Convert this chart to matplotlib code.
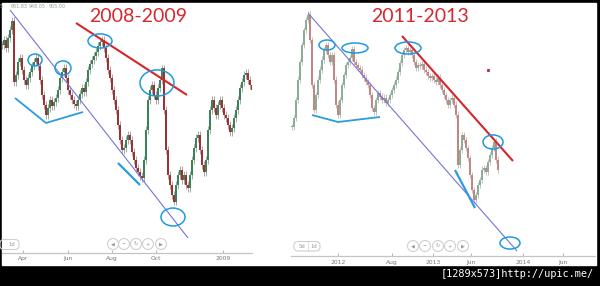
import numpy as np
import matplotlib
matplotlib.use("Agg")
import matplotlib.pyplot as plt
from matplotlib.patches import Rectangle, Ellipse, Circle, FancyBboxPatch

# ---------------- data ----------------
# Gold, Mar 2008 - Feb 2009 (closes, ~every 2.7 days)
left_close = [978, 987, 973, 991, 1006, 1022, 910, 923, 947, 954, 932, 914, 905, 917, 929,
              940, 947, 954, 940, 914, 886, 868, 849, 862, 877, 866, 873, 881, 895, 917,
              929, 936, 917, 895, 886, 877, 870, 866, 877, 888, 899, 892, 910, 932, 943,
              951, 958, 965, 976, 984, 987, 973, 954, 932, 917, 895, 877, 859, 831, 803,
              785, 789, 803, 813, 803, 781, 767, 752, 745, 737, 733, 767, 822, 877, 895,
              905, 886, 877, 899, 914, 935, 859, 785, 739, 721, 702, 690, 721, 739, 748,
              730, 739, 721, 715, 739, 767, 789, 807, 813, 785, 757, 745, 767, 822, 859,
              877, 862, 849, 868, 877, 862, 849, 844, 831, 818, 825, 844, 859, 877, 899,
              910, 923, 927, 914, 905, 895]
left_ticks = [10.5, 33, 55, 77, 110.5]
left_labels = ["Apr", "Jun", "Aug", "Oct", "2009"]

# Gold, Jul 2011 - Sep 2013 (closes, ~weekly)
right_close = [1477, 1512, 1582, 1660, 1730, 1796, 1854, 1893, 1913, 1815, 1640, 1543, 1601,
               1660, 1699, 1738, 1776, 1796, 1757, 1730, 1757, 1660, 1563, 1524, 1582, 1640,
               1679, 1718, 1730, 1745, 1780, 1730, 1718, 1706, 1699, 1679, 1668, 1652, 1640,
               1601, 1551, 1535, 1582, 1609, 1594, 1582, 1590, 1570, 1582, 1601, 1621, 1640,
               1660, 1691, 1726, 1757, 1776, 1784, 1769, 1776, 1757, 1730, 1706, 1718, 1714,
               1722, 1699, 1691, 1675, 1668, 1675, 1660, 1652, 1668, 1640, 1621, 1601, 1582,
               1563, 1582, 1590, 1563, 1524, 1329, 1387, 1446, 1426, 1395, 1356, 1290, 1232,
               1193, 1212, 1251, 1271, 1310, 1317, 1302, 1341, 1368, 1395, 1419, 1349, 1310]
right_ticks = [23, 50, 70.5, 89.5, 115.5, 135.5]
right_labels = ["2012", "Aug", "2013", "Jun", "2014", "Jun"]

left_title = "2008-2009"
right_title = "2011-2013"
ticker_values = ["961.83", "948.05", "955.00"]

# annotations (index, price)
left_lines = [([(4, 1042.6), (93, 623.1)], "#7474da", 0.8),
              ([(37, 1018.7), (92.5, 886.2)], "#d8242b", 1.5),
              ([(6.5, 880.7), (22, 834.7), (40.5, 854.9)], "#2a9ddc", 1.3),
              ([(58, 761.1), (69, 720.6)], "#2a9ddc", 1.6)]
left_ellipses = [(16.5, 950.6, 7, 22), (30.5, 935.9, 8, 26), (49, 985.6, 12, 26),
                 (77.5, 908.3, 17, 48), (85.5, 661.7, 12, 33)]
right_lines = [([(8, 1920), (112.5, 994.2)], "#7474da", 0.8),
               ([(55, 1830.6), (110.5, 1344.3)], "#d8242b", 1.5),
               ([(10, 1523.2), (23, 1496.0), (44, 1515.5)], "#2a9ddc", 1.3),
               ([(81.5, 1309.3), (91.5, 1161.5)], "#2a9ddc", 1.6)]
right_ellipses = [(17.5, 1795.5, 8, 39), (31.5, 1783.9, 13, 39), (58, 1783.9, 13, 47),
                  (100.5, 1418.2, 10, 55), (109, 1025.3, 10, 47)]

W, H = 600, 286
fig = plt.figure(figsize=(W / 100, H / 100), dpi=100, facecolor="black")
bg = fig.add_axes([0, 0, 1, 1])
bg.set_xlim(0, W)
bg.set_ylim(H, 0)
bg.axis("off")
bg.add_patch(Rectangle((2, 3), 594, 262, color="white", zorder=0))


def px_axes(x0, x1, y0, y1):
    ax = fig.add_axes([x0 / W, 1 - y1 / H, (x1 - x0) / W, (y1 - y0) / H])
    ax.set_facecolor("none")
    return ax


def candles(ax, closes, pad, up, down, wick, width):
    c = np.asarray(closes, float)
    o = np.r_[c[0], c[:-1]]
    x = np.arange(len(c))
    hi = np.maximum(o, c) + pad
    lo = np.minimum(o, c) - pad
    ax.vlines(x, lo, hi, color=wick, lw=0.5, zorder=2)
    body = np.maximum(np.abs(c - o), pad * 0.4)
    colors = np.where(c >= o, up, down)
    ax.bar(x, body, bottom=np.minimum(o, c), width=width, color=colors,
           linewidth=0, zorder=3)


def style_axis(ax, ticks, labels, pad):
    for s in ("top", "left", "right"):
        ax.spines[s].set_visible(False)
    ax.spines["bottom"].set_color("#c4c4c4")
    ax.spines["bottom"].set_linewidth(0.9)
    ax.set_yticks([])
    ax.set_xticks(ticks)
    ax.set_xticklabels(labels)
    ax.tick_params(axis="x", direction="in", length=2, width=0.6, color="#aaaaaa",
                   labelsize=4.3, labelcolor="#777777", pad=pad)


def annotate(ax, lines, ellipses):
    for pts, col, lw in lines:
        xs, ys = zip(*pts)
        ax.plot(xs, ys, color=col, lw=lw, zorder=5, solid_capstyle="butt")
    for cx, cy, w, h in ellipses:
        ax.add_patch(Ellipse((cx, cy), w, h, fill=False, ec="#1c9be0", lw=1.1, zorder=6))


# ---- left chart ----
axL = px_axes(2, 252, 4, 253)
candles(axL, left_close, 7, "#3a8257", "#9e3136", "#858585", 0.9)
axL.set_xlim(0, 125)
axL.set_ylim(595.5, 1053.6)
style_axis(axL, left_ticks, left_labels, 2.2)
annotate(axL, left_lines, left_ellipses)

# ---- right chart ----
axR = px_axes(291, 595, 4, 256)
candles(axR, right_close, 13, "#8aae97", "#c48585", "#ababab", 0.8)
axR.set_xlim(-0.5, 151.5)
axR.set_ylim(974.8, 1955.0)
style_axis(axR, right_ticks, right_labels, 2.6)
annotate(axR, right_lines, right_ellipses)
axR.plot([98], [1698.3], "s", color="#c0304a", ms=1.2, zorder=6)

# ---- titles ----
bg.text(138, 16, left_title, ha="center", va="center", color="#d6282e",
        fontsize=14, family="Lato")
bg.text(420, 16, right_title, ha="center", va="center", color="#d6282e",
        fontsize=14, family="Lato")

# ticker readout
bg.text(1.5, 6, "5", ha="center", va="center", fontsize=3.5, color="#8fa89a")
for xc, v in zip([19, 37.5, 57.5], ticker_values):
    bg.text(xc, 6, v, ha="center", va="center", fontsize=3.5, color="#8fa89a")

# ---- navigator buttons ----
glyphs = ["\u25c0", "\u2212", "\u21bb", "+", "\u25b6"]
for xs, yc in (([113, 124, 136, 148, 161], 244), ([413, 425, 438, 450, 463], 246)):
    for xc, g in zip(xs, glyphs):
        bg.add_patch(Circle((xc, yc), 5.5, fill=False, ec="#d0d0d0", lw=0.8, zorder=3))
        bg.text(xc, yc, g, ha="center", va="center", fontsize=3.6, color="#9a9a9a",
                family="DejaVu Sans")

bg.add_patch(FancyBboxPatch((0, 239.5), 19, 10, boxstyle="round,pad=0,rounding_size=4",
                            fill=False, ec="#d0d0d0", lw=0.8))
bg.text(12, 244.5, "1d", ha="center", va="center", fontsize=3.8, color="#999999")
bg.add_patch(FancyBboxPatch((294, 241.5), 26, 9.5, boxstyle="round,pad=0,rounding_size=4",
                            fill=False, ec="#d0d0d0", lw=0.8))
bg.plot([308, 308], [242, 250.5], color="#d8d8d8", lw=0.6)
bg.text(302, 246.3, "5d", ha="center", va="center", fontsize=3.8, color="#999999")
bg.text(313.5, 246.3, "1d", ha="center", va="center", fontsize=3.8, color="#999999")

# ---- footer ----
bg.text(594, 274, "[1289x573]http://upic.me/", ha="right", va="center", color="white",
        fontsize=7.4, family="DejaVu Sans Mono")

fig.savefig("out.png", dpi=100, facecolor="black")
